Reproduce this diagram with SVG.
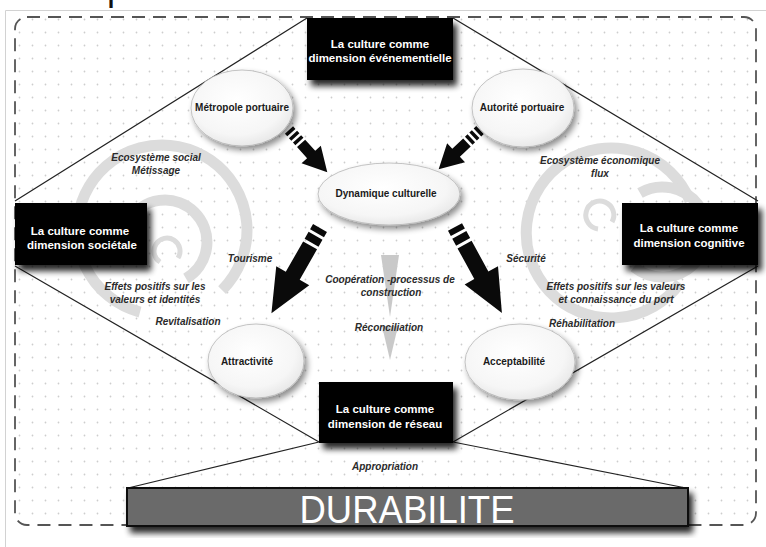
<svg xmlns="http://www.w3.org/2000/svg" width="766" height="547" viewBox="0 0 766 547">
<style>
.lbl{font-family:"Liberation Sans",Arial,sans-serif;font-style:italic;font-weight:bold;font-size:10px;fill:#2b2b2b;text-anchor:middle}
.nt{font-family:"Liberation Sans",Arial,sans-serif;font-weight:bold;font-size:10px;fill:#1a1a1a;text-anchor:middle}
.bt{font-family:"Liberation Sans",Arial,sans-serif;font-weight:bold;font-size:11.5px;fill:#ffffff;text-anchor:middle}
.box{fill:#050505}
.ell{fill:url(#eg);stroke:#b5b5b5;stroke-width:0.8}
.ring{fill:none;stroke:#dcdcdc}
.rl{stroke:#222;stroke-width:1.2;fill:none}
.tri{fill:#c9c9c9}
</style>
<defs>
<pattern id="dots" width="13" height="13" patternUnits="userSpaceOnUse">
<circle cx="6.5" cy="6.5" r="0.9" fill="#cdcdcd"/>
</pattern>
<radialGradient id="eg" cx="0.45" cy="0.4" r="0.65">
<stop offset="0" stop-color="#ffffff"/>
<stop offset="0.7" stop-color="#f6f6f6"/>
<stop offset="1" stop-color="#e4e4e4"/>
</radialGradient>
<filter id="bs" x="-20%" y="-20%" width="140%" height="150%">
<feGaussianBlur in="SourceAlpha" stdDeviation="3"/>
<feOffset dx="4" dy="6" result="o"/>
<feComponentTransfer><feFuncA type="linear" slope="0.85"/></feComponentTransfer>
<feMerge><feMergeNode/><feMergeNode in="SourceGraphic"/></feMerge>
</filter>
<filter id="es" x="-20%" y="-20%" width="145%" height="150%">
<feGaussianBlur in="SourceAlpha" stdDeviation="3"/>
<feOffset dx="3" dy="4"/>
<feComponentTransfer><feFuncA type="linear" slope="0.45"/></feComponentTransfer>
<feMerge><feMergeNode/><feMergeNode in="SourceGraphic"/></feMerge>
</filter>
<g id="arrB" fill="#0a0a0a">
<path d="M0,-8h6v16h-6z M9,-8h8v16h-8z M20,-8H55V-19L98,0L55,19V8H20z"/>
</g>
<g id="arrS" fill="#0a0a0a">
<path d="M0,-5.5h3.5v11h-3.5z M6,-5.5h3.5v11h-3.5z M12,-5.5h3.5v11h-3.5z M18,-5.5H33V-13L57,0L33,13V5.5H18z"/>
</g>
</defs>

<rect width="766" height="547" fill="#ffffff"/>
<path d="M5.5,547V10.5H766" fill="none" stroke="#d2d2d2" stroke-width="1"/>
<text x="107" y="0" style="font-family:'Liberation Sans',Arial,sans-serif;font-size:36px;fill:#111">p</text>

<g id="frame">
<rect x="15" y="17" width="741" height="508" rx="12" fill="url(#dots)"/>
<rect x="15" y="17" width="741" height="508" rx="12" fill="none" stroke="#555" stroke-width="1.8" stroke-dasharray="13 8"/>
</g>

<g id="rings">
<path class="ring" stroke-width="11" d="M222.1,290.1A85,85 0 1 0 140,312.1"/>
<path class="ring" stroke-width="11" d="M186,278.4A42,42 0 1 0 128.6,221"/>
<path class="ring" stroke-width="5" d="M178,258A13,13 0 1 0 160,262"/>
<path class="ring" stroke-width="11" d="M690,201A85,85 0 1 0 680,283"/>
<path class="ring" stroke-width="11" d="M634,267A45,45 0 1 0 640,193"/>
<path class="ring" stroke-width="5" d="M612,222A14,14 0 1 0 598,229"/>
</g>

<g id="connectors">
<path class="rl" d="M307,18L15,201 M453,18L758,201 M15,266L319,442 M758,266L453,442 M319,442L128,488 M453,442L686,488"/>
<polygon class="tri" points="381,255 399,255 390,317"/>
<polygon class="tri" points="382,326 398,326 390,360"/>
<use href="#arrS" transform="translate(289,130) rotate(47.8)"/>
<use href="#arrS" transform="translate(480,130) rotate(136.5)"/>
<use href="#arrB" transform="translate(320,228) rotate(119.7)"/>
<use href="#arrB" transform="translate(455,227) rotate(61.4)"/>
</g>

<g id="labels">
<text class="lbl" x="156" y="161">Ecosystème social</text>
<text class="lbl" x="156" y="174">Métissage</text>
<text class="lbl" x="600" y="164">Ecosystème économique</text>
<text class="lbl" x="600" y="177">flux</text>
<text class="lbl" x="250" y="262">Tourisme</text>
<text class="lbl" x="155" y="290">Effets positifs sur les</text>
<text class="lbl" x="155" y="303">valeurs et identités</text>
<text class="lbl" x="188" y="325">Revitalisation</text>
<text class="lbl" x="526" y="262">Sécurité</text>
<text class="lbl" x="616" y="290">Effets positifs sur les valeurs</text>
<text class="lbl" x="616" y="303">et connaissance du port</text>
<text class="lbl" x="582" y="327">Réhabilitation</text>
<text class="lbl" x="390" y="283">Coopération -processus de</text>
<text class="lbl" x="391" y="296">construction</text>
<text class="lbl" x="389" y="331">Réconciliation</text>
<text class="lbl" x="385" y="470">Appropriation</text>
</g>

<g id="node-metropole">
<ellipse class="ell" cx="242" cy="108" rx="51" ry="38" filter="url(#es)"/>
<text class="nt" x="242" y="111">Métropole portuaire</text>
</g>
<g id="node-autorite">
<ellipse class="ell" cx="523" cy="108" rx="51" ry="39" filter="url(#es)"/>
<text class="nt" x="522" y="111">Autorité portuaire</text>
</g>
<g id="node-dynamique">
<ellipse class="ell" cx="389" cy="194" rx="71" ry="31" filter="url(#es)"/>
<text class="nt" x="386" y="197">Dynamique culturelle</text>
</g>
<g id="node-attractivite">
<ellipse class="ell" cx="256" cy="361" rx="48" ry="37" filter="url(#es)"/>
<text class="nt" x="247" y="365">Attractivité</text>
</g>
<g id="node-acceptabilite">
<ellipse class="ell" cx="520" cy="362" rx="55" ry="38" filter="url(#es)"/>
<text class="nt" x="514" y="365">Acceptabilité</text>
</g>

<g id="box-evenementielle">
<rect class="box" x="307" y="18" width="146" height="62" filter="url(#bs)"/>
<text class="bt" x="380" y="47.5">La culture comme</text>
<text class="bt" x="380" y="61.5">dimension événementielle</text>
</g>
<g id="box-societale">
<rect class="box" x="15" y="203" width="132" height="62" filter="url(#bs)"/>
<text class="bt" x="80" y="235">La culture comme</text>
<text class="bt" x="82" y="249">dimension sociétale</text>
</g>
<g id="box-cognitive">
<rect class="box" x="622" y="203" width="136" height="62" filter="url(#bs)"/>
<text class="bt" x="689" y="232">La culture comme</text>
<text class="bt" x="689" y="247">dimension cognitive</text>
</g>
<g id="box-reseau">
<rect class="box" x="319" y="382" width="134" height="61" filter="url(#bs)"/>
<text class="bt" x="385" y="413">La culture comme</text>
<text class="bt" x="385" y="428">dimension de réseau</text>
</g>

<g id="bar-durabilite">
<rect x="127" y="488" width="561" height="38" fill="#6b6b6b" stroke="#111" stroke-width="2" filter="url(#bs)"/>
<text x="407" y="523" text-anchor="middle" textLength="215" lengthAdjust="spacingAndGlyphs" style="font-family:'Liberation Sans',Arial,sans-serif;font-size:39px;fill:#ffffff">DURABILITE</text>
</g>
</svg>
